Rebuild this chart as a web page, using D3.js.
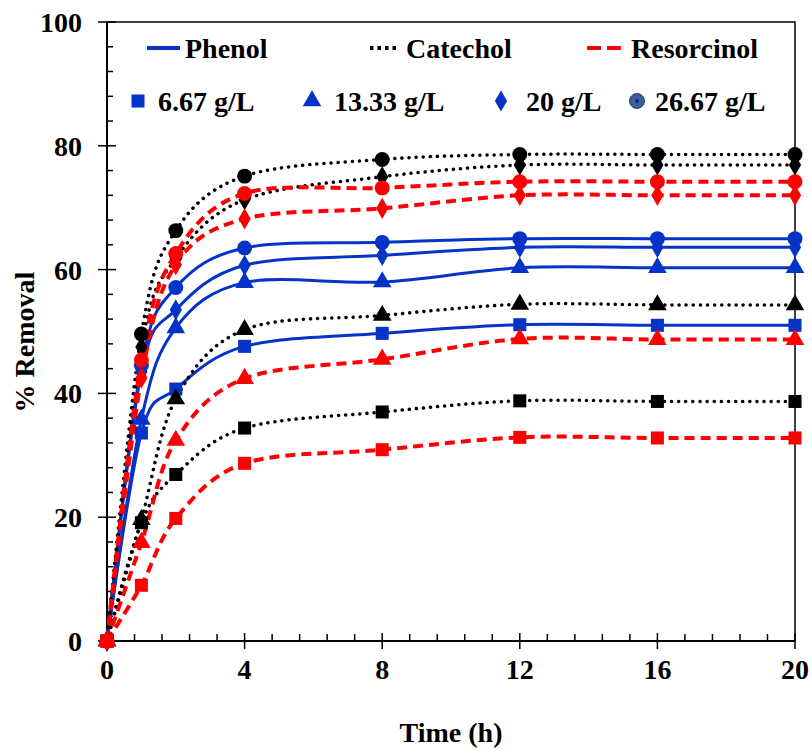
<!DOCTYPE html>
<html>
<head>
<meta charset="utf-8">
<script src="https://cdn.jsdelivr.net/npm/d3@7"></script>
<style>
  body { margin: 0; background: #fff; }
  text { font-family: "Liberation Serif", "Times New Roman", serif; font-weight: bold; }
</style>
</head>
<body>
<script>
// data
const times = [0, 1, 2, 4, 8, 12, 16, 20];
const doses = ["6.67 g/L", "13.33 g/L", "20 g/L", "26.67 g/L"];
const compounds = ["Phenol", "Catechol", "Resorcinol"];

const phenol = [
    [0, 33.6, 40.7, 47.6, 49.7, 51.1, 51.0, 51.0],
    [0, 35.8, 50.6, 57.9, 58.0, 60.3, 60.3, 60.3],
    [0, 43.5, 53.5, 60.7, 62.3, 63.6, 63.6, 63.6],
    [0, 44.5, 57.1, 63.5, 64.4, 65.0, 65.0, 65.0]
];
const catechol = [
    [0, 19.1, 26.9, 34.4, 37.0, 38.8, 38.7, 38.7],
    [0, 19.6, 39.1, 50.3, 52.6, 54.4, 54.3, 54.3],
    [0, 47.5, 61.8, 71.3, 75.0, 76.9, 76.9, 76.9],
    [0, 49.6, 66.3, 75.1, 77.8, 78.6, 78.6, 78.6]
];
const resorcinol = [
    [0, 9.0, 19.8, 28.7, 30.9, 32.9, 32.8, 32.8],
    [0, 15.9, 32.4, 42.4, 45.5, 48.8, 48.7, 48.7],
    [0, 42.5, 60.8, 68.2, 69.9, 72.0, 72.0, 72.0],
    [0, 45.4, 62.6, 72.3, 73.2, 74.2, 74.2, 74.2]
];

const xTicks = [0, 4, 8, 12, 16, 20];
const yTicks = [0, 20, 40, 60, 80, 100];

// styles
const BLUE = "#0433c8";
const RED = "#ff0000";
const BLACK = "#000000";
const FONT_SIZE = 28;

var margin = {top: 22, right: 17, bottom: 110, left: 107},
    width = 812 - margin.left - margin.right,
    height = 751 - margin.top - margin.bottom;

var svg = d3.select("body").append("svg")
    .attr("width", 812)
    .attr("height", 751);

var g = svg.append("g")
    .attr("transform", "translate(" + margin.left + "," + margin.top + ")");

var xScale = d3.scaleLinear().domain([0, 20]).range([0, width]);
var yScale = d3.scaleLinear().domain([0, 100]).range([height, 0]);

// frame (top and right)
g.append("path")
    .attr("d", "M0,0H" + width + "V" + height)
    .attr("fill", "none")
    .attr("stroke", "#000")
    .attr("stroke-width", 1.5);

// y axis: minor ticks inside, major ticks crossing
var yMinor = d3.range(0, 100.01, 4).filter(v => v % 20 !== 0);
g.selectAll(".yminor").data(yMinor).enter().append("line")
    .attr("x1", 0).attr("x2", 6)
    .attr("y1", d => yScale(d)).attr("y2", d => yScale(d))
    .attr("stroke", "#000").attr("stroke-width", 1.5);
g.selectAll(".ymajor").data(yTicks).enter().append("line")
    .attr("x1", -9).attr("x2", 9)
    .attr("y1", d => yScale(d)).attr("y2", d => yScale(d))
    .attr("stroke", "#000").attr("stroke-width", 1.5);
g.selectAll(".ylab").data(yTicks).enter().append("text")
    .attr("x", -25)
    .attr("y", d => yScale(d) + 10)
    .attr("text-anchor", "end")
    .attr("font-size", FONT_SIZE)
    .text(d => d);

// x axis
var xMinor = d3.range(0, 20.01, 0.8).filter(v => Math.abs(v / 4 - Math.round(v / 4)) > 0.01);
g.selectAll(".xminor").data(xMinor).enter().append("line")
    .attr("x1", d => xScale(d)).attr("x2", d => xScale(d))
    .attr("y1", height).attr("y2", height - 7)
    .attr("stroke", "#000").attr("stroke-width", 1.5);
g.selectAll(".xmajor").data(xTicks).enter().append("line")
    .attr("x1", d => xScale(d)).attr("x2", d => xScale(d))
    .attr("y1", height + 8).attr("y2", height - 8)
    .attr("stroke", "#000").attr("stroke-width", 1.5);
g.selectAll(".xlab").data(xTicks).enter().append("text")
    .attr("x", d => xScale(d))
    .attr("y", height + 38)
    .attr("text-anchor", "middle")
    .attr("font-size", FONT_SIZE)
    .text(d => d);

g.append("line").attr("x1", 0).attr("x2", 0).attr("y1", 0).attr("y2", height)
    .attr("stroke", "#000").attr("stroke-width", 2);
g.append("line").attr("x1", 0).attr("x2", width).attr("y1", height).attr("y2", height)
    .attr("stroke", "#000").attr("stroke-width", 2);

// axis titles
svg.append("text")
    .attr("x", 451).attr("y", 742)
    .attr("text-anchor", "middle")
    .attr("font-size", FONT_SIZE)
    .text("Time (h)");
svg.append("text")
    .attr("transform", "translate(34,342)rotate(-90)")
    .attr("text-anchor", "middle")
    .attr("font-size", FONT_SIZE)
    .text("% Removal");

// series
var shapes = [d3.symbolSquare, d3.symbolTriangle, d3.symbolDiamond, d3.symbolCircle];
var shapeSizes = [170, 150, 130, 175];
var markerOrder = [1, 0, 2, 3];
var seriesStyle = [
    {data: phenol, color: BLUE, width: 3, dash: null, cap: "butt"},
    {data: catechol, color: BLACK, width: 3.5, dash: "0.1 7", cap: "round"},
    {data: resorcinol, color: RED, width: 4, dash: "10 6", cap: "butt"}
];

var line = d3.line()
    .x((d, i) => xScale(times[i]))
    .y(d => yScale(d))
    .curve(d3.curveCatmullRom.alpha(0));

seriesStyle.forEach(function(s) {
    s.data.forEach(function(vals) {
        g.append("path")
            .datum(vals)
            .attr("d", line)
            .attr("fill", "none")
            .attr("stroke", s.color)
            .attr("stroke-width", s.width)
            .attr("stroke-dasharray", s.dash)
            .attr("stroke-linecap", s.cap);
    });
});

seriesStyle.forEach(function(s) {
    markerOrder.forEach(function(k) {
        g.selectAll(null)
            .data(s.data[k])
            .enter()
            .append("path")
            .attr("transform", (d, i) => "translate(" + xScale(times[i]) + "," + yScale(d) + ")")
            .attr("d", d3.symbol().type(shapes[k]).size(shapeSizes[k]))
            .attr("fill", s.color);
    });
});

// legend row 1
var leg1 = [
    {label: compounds[0], color: BLUE, width: 4, dash: null, x1: 147, x2: 180, tx: 185},
    {label: compounds[1], color: BLACK, width: 4, dash: "3.5 4", x1: 370, x2: 398, tx: 406},
    {label: compounds[2], color: RED, width: 4, dash: "14 6", x1: 587, x2: 622, tx: 631}
];
leg1.forEach(function(d) {
    svg.append("line")
        .attr("x1", d.x1).attr("x2", d.x2).attr("y1", 48).attr("y2", 48)
        .attr("stroke", d.color).attr("stroke-width", d.width)
        .attr("stroke-dasharray", d.dash);
    svg.append("text")
        .attr("x", d.tx).attr("y", 58)
        .attr("font-size", FONT_SIZE)
        .text(d.label);
});

// legend row 2
var leg2x = [138, 312, 501, 637];
var leg2tx = [158, 334, 526, 655];
doses.forEach(function(label, k) {
    var mark = svg.append("path")
        .attr("transform", "translate(" + leg2x[k] + ",101)")
        .attr("d", d3.symbol().type(shapes[k]).size(shapeSizes[k]));
    if (k === 3) {
        mark.attr("fill", "#3d5f94").attr("stroke", "#1f3a7a").attr("stroke-width", 1);
        svg.append("circle").attr("cx", leg2x[k]).attr("cy", 101).attr("r", 2).attr("fill", "#0a1fa0");
    } else {
        mark.attr("fill", BLUE);
    }
    svg.append("text")
        .attr("x", leg2tx[k]).attr("y", 111)
        .attr("font-size", FONT_SIZE)
        .text(label);
});
</script>
</body>
</html>
